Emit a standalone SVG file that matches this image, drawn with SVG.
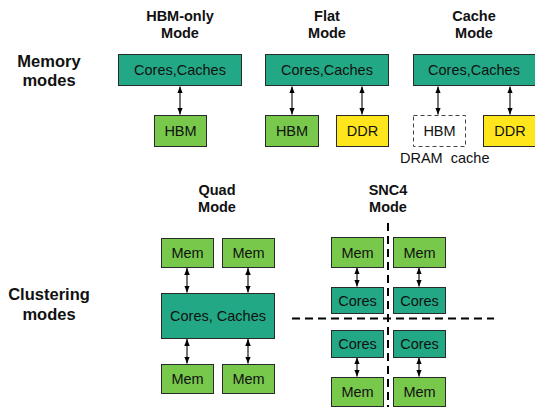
<svg xmlns="http://www.w3.org/2000/svg" width="535" height="407" viewBox="0 0 535 407">
  <defs>
    <marker id="head" viewBox="0 0 10 8" refX="10" refY="4" markerWidth="4.6" markerHeight="3.7" orient="auto-start-reverse" markerUnits="strokeWidth">
      <path d="M0,0 L10,4 L0,8 z" fill="#000"/>
    </marker>
    <style>
      .core { fill: #22a884; stroke: #2a2a2a; stroke-width: 1; }
      .hbm { fill: #78c84c; stroke: #2a2a2a; stroke-width: 1; }
      .ddr { fill: #ffe51c; stroke: #2a2a2a; stroke-width: 1; }
      .cachebox { fill: #fff; stroke: #444; stroke-width: 1; stroke-dasharray: 4 3; }
      .lbl { font-family: "Liberation Sans", Arial, sans-serif; font-size: 14.5px; fill: #111; text-anchor: middle; }
      .title { font-family: "Liberation Sans", Arial, sans-serif; font-size: 14.5px; font-weight: bold; fill: #111; text-anchor: middle; }
      .side { font-family: "Liberation Sans", Arial, sans-serif; font-size: 16.5px; font-weight: bold; fill: #111; text-anchor: middle; }
      .note { font-family: "Liberation Sans", Arial, sans-serif; font-size: 14.5px; fill: #111; white-space: pre; }
      .arrow { stroke: #444; stroke-width: 1.5; fill: none; marker-start: url(#head); marker-end: url(#head); }
      .divider { stroke: #000; stroke-width: 2; stroke-dasharray: 8 5; fill: none; }
    </style>
  </defs>

  <!-- section labels -->
  <g id="labels">
    <text class="side" x="49" y="67">Memory</text>
    <text class="side" x="49" y="86">modes</text>
    <text class="side" x="49" y="300">Clustering</text>
    <text class="side" x="49" y="320">modes</text>
    <text class="title" x="180" y="21">HBM-only</text>
    <text class="title" x="180" y="38">Mode</text>
    <text class="title" x="327" y="21">Flat</text>
    <text class="title" x="327" y="38">Mode</text>
    <text class="title" x="474" y="21">Cache</text>
    <text class="title" x="474" y="38">Mode</text>
    <text class="title" x="217" y="195">Quad</text>
    <text class="title" x="217" y="212">Mode</text>
    <text class="title" x="388" y="195">SNC4</text>
    <text class="title" x="388" y="212">Mode</text>
    <text class="note" x="400" y="163">DRAM  cache</text>
  </g>

  <!-- connectors -->
  <g id="connectors">
    <line class="arrow" x1="180" y1="86.5" x2="180" y2="114.5"/>
    <line class="arrow" x1="292" y1="86.5" x2="292" y2="114.5"/>
    <line class="arrow" x1="362" y1="86.5" x2="362" y2="114.5"/>
    <line class="arrow" x1="438" y1="86.5" x2="438" y2="114.5"/>
    <line class="arrow" x1="510" y1="86.5" x2="510" y2="114.5"/>
    <line class="arrow" x1="187" y1="268" x2="187" y2="292.5"/>
    <line class="arrow" x1="248" y1="268" x2="248" y2="292.5"/>
    <line class="arrow" x1="187" y1="339" x2="187" y2="363.5"/>
    <line class="arrow" x1="248" y1="339" x2="248" y2="363.5"/>
    <line class="arrow" x1="357" y1="267.5" x2="357" y2="286.5"/>
    <line class="arrow" x1="419" y1="267.5" x2="419" y2="286.5"/>
    <line class="arrow" x1="357" y1="357.5" x2="357" y2="376.5"/>
    <line class="arrow" x1="419" y1="357.5" x2="419" y2="376.5"/>
    <line class="divider" x1="388" y1="223" x2="388" y2="407"/>
    <line class="divider" x1="292" y1="318.5" x2="494" y2="318.5"/>
  </g>

  <!-- HBM-only mode -->
  <g id="hbmonly-cores"><rect class="core" x="118.5" y="54.5" width="123" height="31"/><text class="lbl" x="180" y="75">Cores,Caches</text></g>
  <g id="hbmonly-hbm"><rect class="hbm" x="154.5" y="115.5" width="52" height="31"/><text class="lbl" x="180.5" y="136">HBM</text></g>

  <!-- Flat mode -->
  <g id="flat-cores"><rect class="core" x="265.5" y="54.5" width="123" height="31"/><text class="lbl" x="327" y="75">Cores,Caches</text></g>
  <g id="flat-hbm"><rect class="hbm" x="265.5" y="115.5" width="53" height="31"/><text class="lbl" x="292" y="136">HBM</text></g>
  <g id="flat-ddr"><rect class="ddr" x="336.5" y="115.5" width="52" height="31"/><text class="lbl" x="362.5" y="136">DDR</text></g>

  <!-- Cache mode -->
  <g id="cache-cores"><rect class="core" x="413.5" y="54.5" width="124" height="31"/><text class="lbl" x="474" y="75">Cores,Caches</text></g>
  <g id="cache-hbm"><rect class="cachebox" x="413.5" y="115.5" width="52" height="31"/><text class="lbl" x="439.5" y="136">HBM</text></g>
  <g id="cache-ddr"><rect class="ddr" x="483.5" y="115.5" width="54" height="31"/><text class="lbl" x="510" y="136">DDR</text></g>

  <!-- Quad mode -->
  <g id="quad-mem-tl"><rect class="hbm" x="161.5" y="238.5" width="52" height="29"/><text class="lbl" x="187.5" y="258">Mem</text></g>
  <g id="quad-mem-tr"><rect class="hbm" x="222.5" y="238.5" width="52" height="29"/><text class="lbl" x="248.5" y="258">Mem</text></g>
  <g id="quad-cores"><rect class="core" x="161.5" y="293.5" width="113" height="45"/><text class="lbl" x="218" y="321">Cores, Caches</text></g>
  <g id="quad-mem-bl"><rect class="hbm" x="161.5" y="364.5" width="52" height="29"/><text class="lbl" x="187.5" y="384">Mem</text></g>
  <g id="quad-mem-br"><rect class="hbm" x="222.5" y="364.5" width="52" height="29"/><text class="lbl" x="248.5" y="384">Mem</text></g>

  <!-- SNC4 mode -->
  <g id="snc-mem-tl"><rect class="hbm" x="331.5" y="237.5" width="52" height="30"/><text class="lbl" x="357.5" y="257.5">Mem</text></g>
  <g id="snc-mem-tr"><rect class="hbm" x="393.5" y="237.5" width="52" height="30"/><text class="lbl" x="419.5" y="257.5">Mem</text></g>
  <g id="snc-cores-tl"><rect class="core" x="331.5" y="287.5" width="52" height="26"/><text class="lbl" x="357.5" y="305.5">Cores</text></g>
  <g id="snc-cores-tr"><rect class="core" x="393.5" y="287.5" width="52" height="26"/><text class="lbl" x="419.5" y="305.5">Cores</text></g>
  <g id="snc-cores-bl"><rect class="core" x="331.5" y="330.5" width="52" height="27"/><text class="lbl" x="357.5" y="349">Cores</text></g>
  <g id="snc-cores-br"><rect class="core" x="393.5" y="330.5" width="52" height="27"/><text class="lbl" x="419.5" y="349">Cores</text></g>
  <g id="snc-mem-bl"><rect class="hbm" x="331.5" y="377.5" width="52" height="29"/><text class="lbl" x="357.5" y="397">Mem</text></g>
  <g id="snc-mem-br"><rect class="hbm" x="393.5" y="377.5" width="52" height="29"/><text class="lbl" x="419.5" y="397">Mem</text></g>
</svg>
